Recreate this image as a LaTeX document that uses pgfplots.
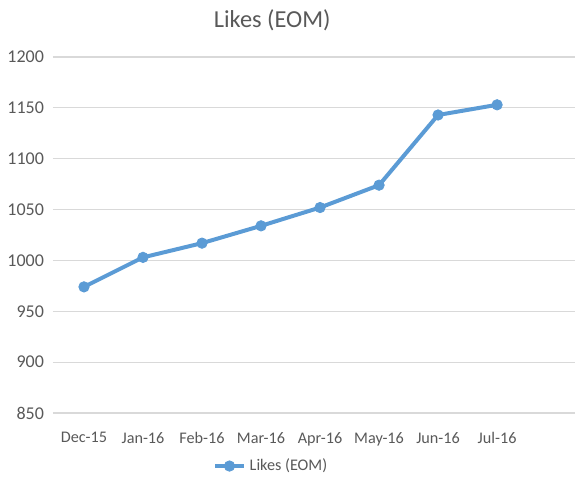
\documentclass[border=0pt]{standalone}
\usepackage{pgfplots}
\pgfplotsset{compat=1.18}
\usepackage{fontspec}
\setmainfont{Carlito}
\definecolor{lineblue}{HTML}{5B9BD5}
\definecolor{gridgray}{HTML}{D9D9D9}
\definecolor{txtgray}{HTML}{595959}

\begin{document}
\begin{tikzpicture}
\useasboundingbox (0,0) rectangle (287.5pt,241.5pt);
\begin{axis}[
    at={(26.5pt,35pt)}, anchor=south west,
    scale only axis, width=261pt, height=178pt,
    xmin=-0.525, xmax=8.32,
    ymin=850, ymax=1200,
    ytick={850,900,...,1200},
    xtick={0,...,7},
    xticklabels={Dec-15,Jan-16,Feb-16,Mar-16,Apr-16,May-16,Jun-16,Jul-16},
    ymajorgrids=true,
    grid style={gridgray, line width=0.6pt},
    axis line style={draw=none},
    major tick length=0pt,
    tick label style={text=txtgray},
    xticklabel style={font=\fontsize{8.1}{9}\selectfont, yshift=-6pt},
    yticklabel style={font=\fontsize{9}{10}\selectfont, xshift=-1pt},
    /pgf/number format/assume math mode=true,
    /pgf/number format/1000 sep={},
    title={Likes (EOM)},
    title style={at={(axis description cs:0.42,1.07)}, anchor=center,
        font=\fontsize{12.2}{14}\selectfont, text=txtgray},
    legend style={at={(axis description cs:0.42,-0.149)}, anchor=center,
        draw=none, font=\fontsize{8.1}{9}\selectfont, text=txtgray,
        legend cell align=left},
    legend image code/.code={
        \draw[#1, mark=none] (0cm,0cm) -- (0.5cm,0cm);
        \draw[#1, only marks] plot coordinates {(0.25cm,0cm)};
    },
]
\addplot[lineblue, line width=2pt, mark=*, mark size=2.6pt,
    mark options={fill=lineblue, draw=lineblue, line width=0.4pt}]
    coordinates {
    (0,974)(1,1003)(2,1017)(3,1034)(4,1052)(5,1074)(6,1143)(7,1153)
    };
\legend{Likes (EOM)}
\end{axis}
\end{tikzpicture}
\end{document}
